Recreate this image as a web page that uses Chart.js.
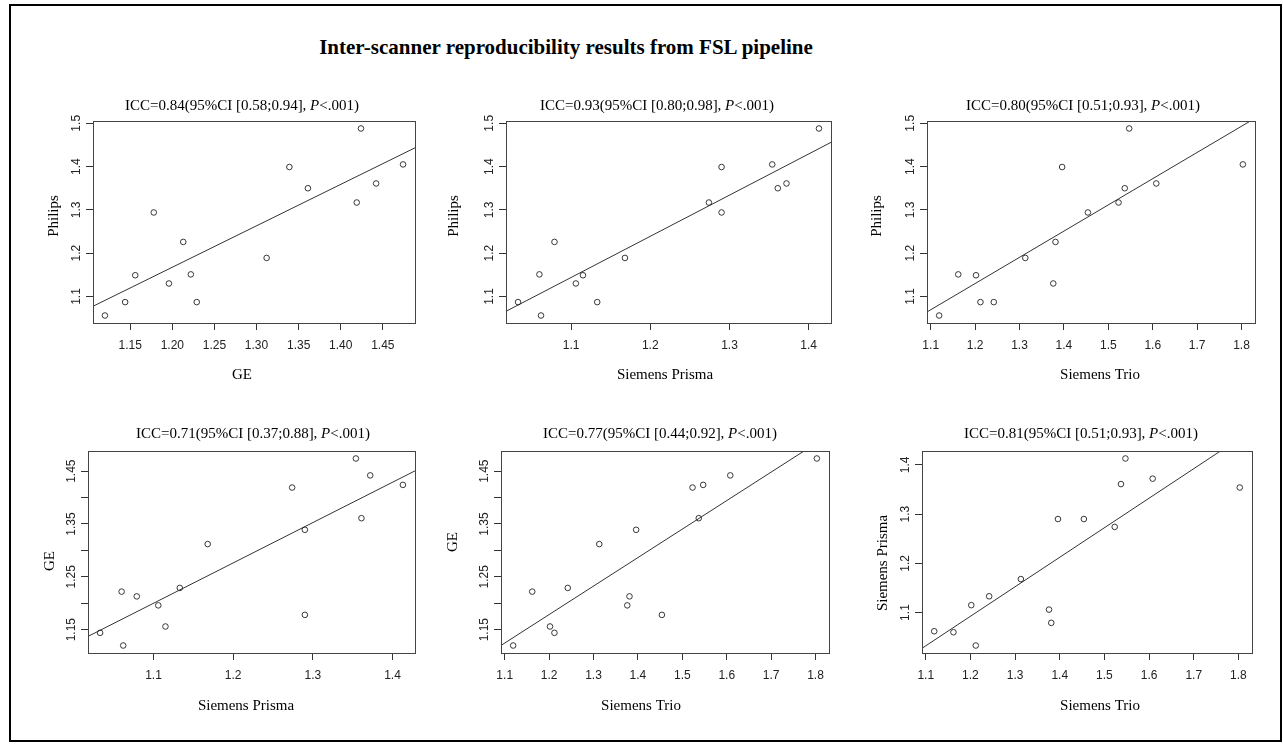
<!DOCTYPE html>
<html>
<head>
<meta charset="utf-8">
<script src="https://cdn.jsdelivr.net/npm/chart.js@4.4.1/dist/chart.umd.min.js"></script>
<style>
  body { margin: 0; background: #fff; }
  #page { position: relative; width: 1283px; height: 744px; overflow: hidden; background: #fff; }
  #frame { position: absolute; left: 9px; top: 4px; width: 1269px; height: 734px; border: 2px solid #000; }
  #page canvas { position: absolute; left: 0; top: 0; }
  #main { position: absolute; left: 266px; width: 600px; top: 35px; line-height: 20px; text-align: center;
          font: bold 21px "Liberation Serif", "Times New Roman", serif; color: #000; }
</style>
</head>
<body>
<div id="page">
  <div id="frame"></div>
  <div id="main">Inter-scanner reproducibility results from FSL pipeline</div>
</div>
<script>
// one value per subject, same order in every array
const ge      = [1.120, 1.144, 1.156, 1.178, 1.196, 1.213, 1.222, 1.229, 1.312, 1.339, 1.361, 1.419, 1.424, 1.442, 1.474];
const philips = [1.056, 1.087, 1.149, 1.294, 1.130, 1.226, 1.151, 1.087, 1.189, 1.399, 1.350, 1.317, 1.488, 1.361, 1.405];
const prisma  = [1.062, 1.033, 1.115, 1.290, 1.106, 1.079, 1.060, 1.133, 1.168, 1.290, 1.361, 1.274, 1.413, 1.372, 1.354];
const trio    = [1.119, 1.212, 1.202, 1.454, 1.376, 1.381, 1.162, 1.242, 1.313, 1.396, 1.537, 1.523, 1.547, 1.608, 1.803];

const iccValues = ['0.84', '0.93', '0.80', '0.71', '0.77', '0.81'];
const ciLow     = ['0.58', '0.80', '0.51', '0.37', '0.44', '0.51'];
const ciHigh    = ['0.94', '0.98', '0.93', '0.88', '0.92', '0.93'];

// tick values and their labels
const ticksGEx      = [1.15, 1.20, 1.25, 1.30, 1.35, 1.40, 1.45];
const labelsGEx     = ['1.15', '1.20', '1.25', '1.30', '1.35', '1.40', '1.45'];
const ticksPrismaX  = [1.1, 1.2, 1.3, 1.4];
const labelsPrismaX = ['1.1', '1.2', '1.3', '1.4'];
const ticksTrioX    = [1.1, 1.2, 1.3, 1.4, 1.5, 1.6, 1.7, 1.8];
const labelsTrioX   = ['1.1', '1.2', '1.3', '1.4', '1.5', '1.6', '1.7', '1.8'];
const ticksPhilipsY  = [1.1, 1.2, 1.3, 1.4, 1.5];
const labelsPhilipsY = ['1.1', '1.2', '1.3', '1.4', '1.5'];
const ticksGEy      = [1.15, 1.20, 1.25, 1.30, 1.35, 1.40, 1.45];
const labelsGEy     = ['1.15', '', '1.25', '', '1.35', '', '1.45'];
const ticksPrismaY  = [1.1, 1.2, 1.3, 1.4];
const labelsPrismaY = ['1.1', '1.2', '1.3', '1.4'];

const panels = [
  { xs: ge,     ys: philips, xName: 'GE',             yName: 'Philips',        xt: ticksGEx,     xl: labelsGEx,     yt: ticksPhilipsY, yl: labelsPhilipsY },
  { xs: prisma, ys: philips, xName: 'Siemens Prisma', yName: 'Philips',        xt: ticksPrismaX, xl: labelsPrismaX, yt: ticksPhilipsY, yl: labelsPhilipsY },
  { xs: trio,   ys: philips, xName: 'Siemens Trio',   yName: 'Philips',        xt: ticksTrioX,   xl: labelsTrioX,   yt: ticksPhilipsY, yl: labelsPhilipsY },
  { xs: prisma, ys: ge,      xName: 'Siemens Prisma', yName: 'GE',             xt: ticksPrismaX, xl: labelsPrismaX, yt: ticksGEy,      yl: labelsGEy },
  { xs: trio,   ys: ge,      xName: 'Siemens Trio',   yName: 'GE',             xt: ticksTrioX,   xl: labelsTrioX,   yt: ticksGEy,      yl: labelsGEy },
  { xs: trio,   ys: prisma,  xName: 'Siemens Trio',   yName: 'Siemens Prisma', xt: ticksTrioX,   xl: labelsTrioX,   yt: ticksPrismaY,  yl: labelsPrismaY }
];

// page layout: plot box and text anchors for each panel
const layouts = [
  { L: 93,  R: 415,  T: 121, B: 323, tx: 242,  ty: 110, xx: 242,  xy: 379, yx: 54,  yy: 216 },
  { L: 506, R: 831,  T: 121, B: 323, tx: 657,  ty: 110, xx: 665,  xy: 379, yx: 454, yy: 216 },
  { L: 927, R: 1255, T: 121, B: 323, tx: 1083, ty: 110, xx: 1100, xy: 379, yx: 877, yy: 216 },
  { L: 88,  R: 415,  T: 451, B: 653, tx: 253,  ty: 438, xx: 246,  xy: 710, yx: 50,  yy: 561 },
  { L: 501, R: 829,  T: 451, B: 653, tx: 660,  ty: 438, xx: 641,  xy: 710, yx: 453, yy: 542 },
  { L: 922, R: 1252, T: 451, B: 653, tx: 1081, ty: 438, xx: 1100, xy: 710, yx: 883, yy: 563 }
];

const serif = '"Liberation Serif", "Times New Roman", serif';
const tickFamily = '"Liberation Sans Narrow", "Liberation Sans", Arial, sans-serif';
const tickFont = { family: tickFamily, size: 12 };

function padRange(v) {
  const lo = Math.min(...v), hi = Math.max(...v), d = (hi - lo) * 0.04;
  return [lo - d, hi + d];
}

function lmFit(xs, ys) {
  const n = xs.length;
  const mx = xs.reduce((s, v) => s + v, 0) / n;
  const my = ys.reduce((s, v) => s + v, 0) / n;
  let sxy = 0, sxx = 0;
  for (let k = 0; k < n; k++) {
    sxy += (xs[k] - mx) * (ys[k] - my);
    sxx += (xs[k] - mx) * (xs[k] - mx);
  }
  const b = sxy / sxx;
  return { a: my - b * mx, b: b };
}

const measure = document.createElement('canvas').getContext('2d');
function widest(labels) {
  measure.font = '12px ' + tickFamily;
  return Math.max(...labels.map(s => measure.measureText(s).width));
}

const page = document.getElementById('page');

panels.forEach((p, i) => {
  const lay = layouts[i];
  const cv = document.createElement('canvas');
  cv.width = 1283;
  cv.height = 744;
  page.appendChild(cv);

  const [xmin, xmax] = padRange(p.xs);
  const [ymin, ymax] = padRange(p.ys);
  const fit = lmFit(p.xs, p.ys);
  const yPad = 9.7 - widest(p.yl) / 2;

  const decor = {
    id: 'decor' + i,
    afterDraw(chart) {
      const ctx = chart.ctx;
      const a = chart.chartArea;
      ctx.save();
      // plot box
      ctx.strokeStyle = '#444';
      ctx.lineWidth = 1;
      ctx.strokeRect(Math.round(a.left) + 0.5, Math.round(a.top) + 0.5,
                     Math.round(a.right - a.left), Math.round(a.bottom - a.top));

      // panel title with italic P
      const parts = [
        ['15px ' + serif, 'ICC=' + iccValues[i] + '(95%CI [' + ciLow[i] + ';' + ciHigh[i] + '], '],
        ['italic 15px ' + serif, 'P'],
        ['15px ' + serif, '<.001)']
      ];
      let total = 0;
      parts.forEach(([f, t]) => { ctx.font = f; total += ctx.measureText(t).width; });
      let x = lay.tx - total / 2;
      ctx.fillStyle = '#000';
      ctx.textAlign = 'left';
      ctx.textBaseline = 'alphabetic';
      parts.forEach(([f, t]) => {
        ctx.font = f;
        ctx.fillText(t, x, lay.ty);
        x += ctx.measureText(t).width;
      });

      // axis titles
      ctx.font = '15px ' + serif;
      ctx.textAlign = 'center';
      ctx.fillText(p.xName, lay.xx, lay.xy);
      ctx.translate(lay.yx, lay.yy);
      ctx.rotate(-Math.PI / 2);
      ctx.textBaseline = 'middle';
      ctx.fillText(p.yName, 0, 0);
      ctx.restore();
    }
  };

  new Chart(cv, {
    type: 'scatter',
    data: {
      datasets: [
        {
          data: p.xs.map((v, k) => ({ x: v, y: p.ys[k] })),
          pointStyle: 'circle',
          pointRadius: 2.8,
          pointHoverRadius: 2.8,
          pointBorderWidth: 0.9,
          borderColor: '#222',
          backgroundColor: 'rgba(0,0,0,0)'
        },
        {
          data: [{ x: xmin, y: fit.a + fit.b * xmin }, { x: xmax, y: fit.a + fit.b * xmax }],
          showLine: true,
          pointRadius: 0,
          pointHoverRadius: 0,
          borderColor: '#333',
          borderWidth: 1
        }
      ]
    },
    options: {
      responsive: false,
      animation: false,
      events: [],
      layout: {
        padding: { left: lay.L - 30, right: 1283 - lay.R, top: lay.T, bottom: 744 - lay.B - 30 }
      },
      plugins: { legend: { display: false }, tooltip: { enabled: false } },
      scales: {
        x: {
          type: 'linear',
          min: xmin,
          max: xmax,
          bounds: 'data',
          afterBuildTicks: s => { s.ticks = p.xt.map(v => ({ value: v })); },
          afterFit: s => { s.height = 30; },
          border: { display: false },
          grid: { drawOnChartArea: false, drawTicks: true, tickLength: 7, color: '#333', lineWidth: 1 },
          ticks: {
            autoSkip: false, minRotation: 0, maxRotation: 0, padding: 8,
            font: tickFont, color: '#222',
            callback: (v, k) => p.xl[k]
          }
        },
        y: {
          type: 'linear',
          min: ymin,
          max: ymax,
          bounds: 'data',
          afterBuildTicks: s => { s.ticks = p.yt.map(v => ({ value: v })); },
          afterFit: s => { s.width = 30; },
          border: { display: false },
          grid: { drawOnChartArea: false, drawTicks: true, tickLength: 7, color: '#333', lineWidth: 1 },
          ticks: {
            autoSkip: false, minRotation: 90, maxRotation: 90, crossAlign: 'center', padding: yPad,
            font: tickFont, color: '#222',
            callback: (v, k) => p.yl[k]
          }
        }
      }
    },
    plugins: [decor]
  });
});
</script>
</body>
</html>
